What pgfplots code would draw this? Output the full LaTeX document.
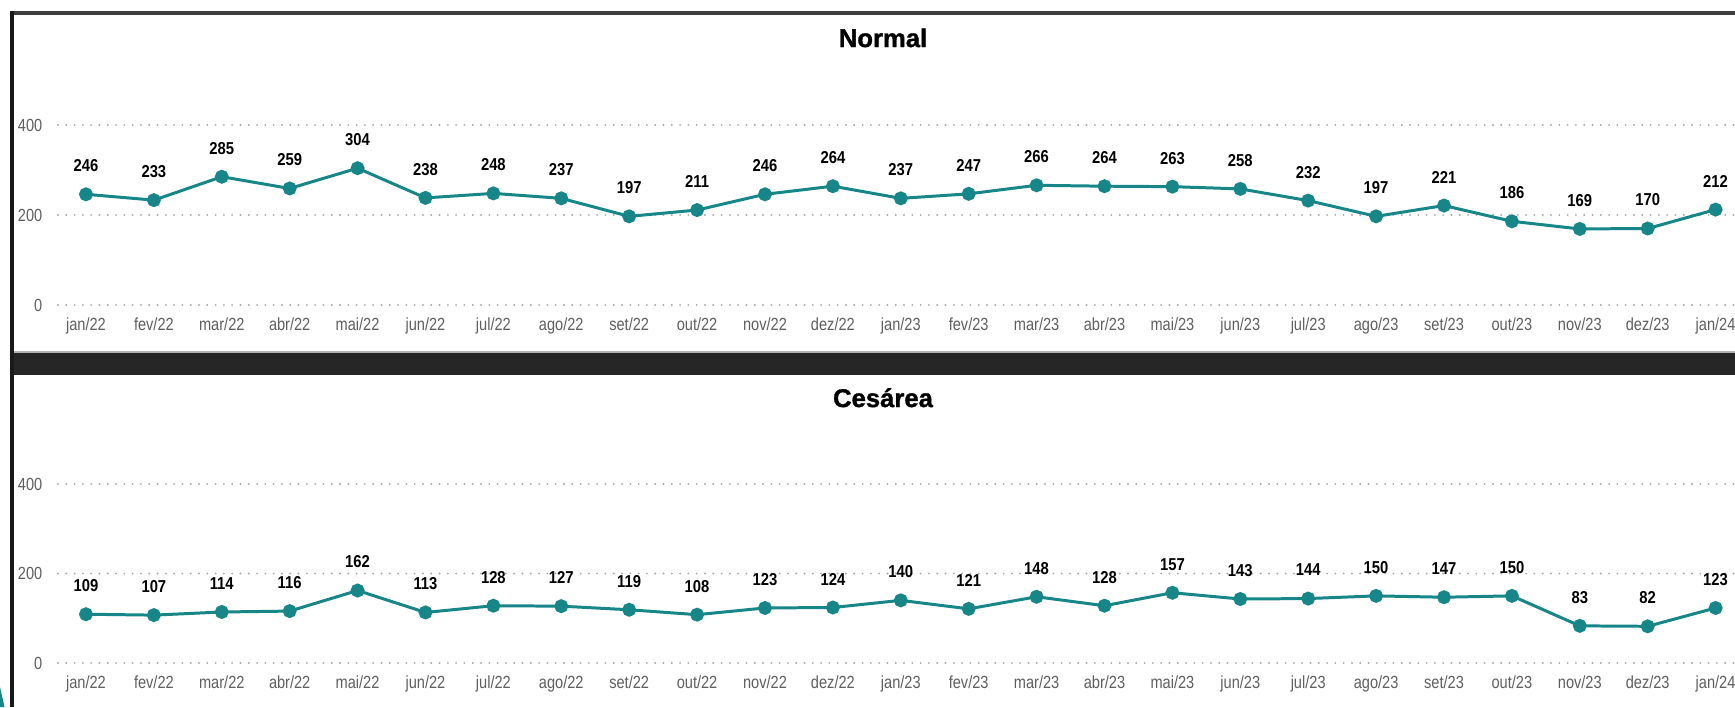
\documentclass[border=0pt]{standalone}
\usepackage{pgfplots}
\pgfplotsset{compat=1.18}
\usepackage{pgfplotstable}
\usepackage{fontspec}
\setmainfont{Liberation Sans}
\newfontfamily\cond[FakeStretch=0.83]{Liberation Sans}
\newfontfamily\condb[FakeStretch=0.86]{Liberation Sans}
\newfontfamily\titlef[BoldFeatures={FakeBold=1.2}]{Liberation Sans}
\definecolor{tealline}{RGB}{22,134,136}
\definecolor{gridc}{RGB}{170,170,170}
\definecolor{tickc}{RGB}{95,95,95}
\definecolor{framec}{RGB}{40,40,40}

\pgfplotstableread{
idx normal cesarea
0 246 109
1 233 107
2 285 114
3 259 116
4 304 162
5 238 113
6 248 128
7 237 127
8 197 119
9 211 108
10 246 123
11 264 124
12 237 140
13 247 121
14 266 148
15 264 128
16 263 157
17 258 143
18 232 144
19 197 150
20 221 147
21 186 150
22 169 83
23 170 82
24 212 123
}\data

\pgfplotsset{panel/.style={
  scale only axis, width=169.2mm,
  xmin=-0.412, xmax=24.507, ymin=0, ymax=400,
  axis line style={draw=none}, major tick length=0pt,
  xtick={0,...,24},
  xticklabels={jan/22,fev/22,mar/22,abr/22,mai/22,jun/22,jul/22,ago/22,set/22,out/22,nov/22,dez/22,jan/23,fev/23,mar/23,abr/23,mai/23,jun/23,jul/23,ago/23,set/23,out/23,nov/23,dez/23,jan/24},
  ytick={0,200,400},
  ymajorgrids,
  grid style={gridc, line width=0.6pt, dash pattern=on 0pt off 2.36pt, line cap=round},
  /pgf/number format/assume math mode=true,
  xticklabel style={font=\cond\fontsize{5}{6}\selectfont, text=tickc, anchor=north, inner sep=0pt, yshift=-1.2mm},
  yticklabel style={font=\cond\fontsize{5}{6}\selectfont, text=tickc, anchor=east, inner sep=0pt, xshift=-1.5mm},
  clip=false,
  every axis title shift=0pt,
  title style={font=\titlef\bfseries\fontsize{7.3}{8}\selectfont, anchor=base, inner sep=0pt, yshift=0pt},
}}
\pgfplotsset{series/.style={color=tealline, line width=0.85pt, mark=*, mark size=1.55pt,
  mark options={solid, fill=tealline, draw=tealline},
  nodes near coords,
  every node near coord/.append style={font=\condb\bfseries\fontsize{4.9}{5}\selectfont, anchor=center, yshift=2.85mm, text=black}}}

\begin{document}
\begin{tikzpicture}
\useasboundingbox (0,0) rectangle (173.5mm,70.7mm);
\clip (0,0) rectangle (173.5mm,70.7mm);
\fill[white] (0,0) rectangle (173.5mm,70.7mm);
% frame
\fill[framec!90!white] (1.0mm,69.2mm) rectangle (173.5mm,69.55mm);
\fill[black!90] (1.0mm,0mm) rectangle (1.4mm,69.55mm);
\fill[black!85] (1.4mm,33.2mm) rectangle (173.5mm,35.5mm);
\fill[gray!60] (1.4mm,35.4mm) rectangle (173.5mm,35.55mm);
% decoration bottom left
\fill[tealline] (0,0) -- (0.45mm,0) -- (0,2.0mm) -- cycle;

\begin{axis}[panel, at={(5.8mm,40.2mm)}, anchor=south west, height=18mm,
  title={Normal}, title style={at={(0.4876,1.433)}}]
\addplot[series] table[x=idx, y=normal] {\data};
\end{axis}

\begin{axis}[panel, at={(5.8mm,4.4mm)}, anchor=south west, height=17.9mm,
  title={Cesárea}, title style={at={(0.4876,1.430)}}]
\addplot[series] table[x=idx, y=cesarea] {\data};
\end{axis}
\end{tikzpicture}
\end{document}
